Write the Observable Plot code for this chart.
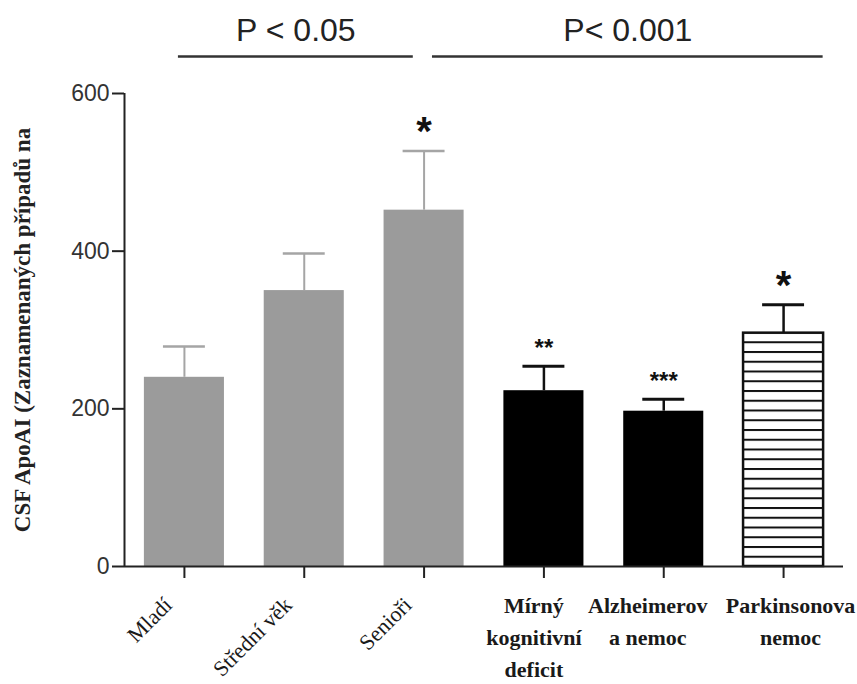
<!DOCTYPE html>
<html><head><meta charset="utf-8">
<script src="https://cdn.jsdelivr.net/npm/d3@7"></script>
<script src="https://cdn.jsdelivr.net/npm/@observablehq/plot@0.6"></script>
<style>body{margin:0;background:#fff}</style>
</head><body><div id="chart"></div>
<script>
// ---- data ----
const categories = ["Mladí", "Střední věk", "Senioři", "Mírný\nkognitivní\ndeficit", "Alzheimerov\na nemoc", "Parkinsonova\nnemoc"];
const means = [240, 350, 452, 223, 197, 296];
const upperErr = [279, 397, 527, 254, 212, 332];
const stars = ["", "", "*", "**", "***", "*"];
const yTicks = [0, 200, 400, 600];
const yLabel = "CSF ApoAI (Zaznamenaných případů na";
const pLabels = ["P < 0.05", "P< 0.001"];
const pFrom = [0, 2];
const pTo = [2, 5];

// ---- styling constants ----
const bracketPad = [[-0.05, -0.09], [0.07, 0.33]];
const labelNudge = [0, 0, 0, -10, -16, 7];
const half = 0.334, capHalf = 0.175;

const rows = categories.map((c, k) => ({i: k + 1, cat: c, mean: means[k], hi: upperErr[k], star: stars[k]}));
const pRows = pLabels.map((l, k) => ({label: l, x1: pFrom[k] + 1 + bracketPad[k][0], x2: pTo[k] + 1 + bracketPad[k][1]}));
const gray = rows.slice(0, 3), black = rows.slice(3, 5), pd = rows.slice(5);
const serif = "Liberation Serif, Times New Roman, serif";

const disease = rows.slice(3).map(d => Plot.text([d], {
  x: "i", y: () => 0, text: "cat", lineAnchor: "top", lineHeight: 1.45,
  dx: labelNudge[d.i - 1], dy: 24, fontSize: 22, fontWeight: "bold", fontFamily: serif, fill: "#1a1a1a"
}));

const svg = Plot.plot({
  width: 857, height: 684,
  marginLeft: 124, marginRight: 14, marginTop: 93, marginBottom: 118,
  x: {domain: [0.5, 6.5], axis: null},
  y: {domain: [0, 600], axis: null},
  style: {fontFamily: "Liberation Sans, Arial, sans-serif", color: "#222", background: "white"},
  marks: [
    // bars
    Plot.rectY(gray, {x1: d => d.i - half, x2: d => d.i + half, y1: 0, y2: "mean", fill: "#9b9b9b"}),
    Plot.rectY(black, {x1: d => d.i - half, x2: d => d.i + half, y1: 0, y2: "mean", fill: "#000"}),
    Plot.rectY(pd, {x1: d => d.i - half, x2: d => d.i + half, y1: 0, y2: "mean", fill: "url(#hstripes)", stroke: "#111", strokeWidth: 2.5}),
    // error bars (upper only)
    Plot.ruleX(gray, {x: "i", y1: "mean", y2: "hi", stroke: "#a5a5a5", strokeWidth: 2}),
    Plot.ruleY(gray, {y: "hi", x1: d => d.i - capHalf, x2: d => d.i + capHalf, stroke: "#a5a5a5", strokeWidth: 2.5}),
    Plot.ruleX(black.concat(pd), {x: "i", y1: "mean", y2: "hi", stroke: "#111", strokeWidth: 2.5}),
    Plot.ruleY(black.concat(pd), {y: "hi", x1: d => d.i - capHalf, x2: d => d.i + capHalf, stroke: "#111", strokeWidth: 3}),
    // significance stars
    Plot.text(rows.filter(d => d.star.length === 1), {x: "i", y: "hi", text: "star", fontSize: 40, fontWeight: "bold", dy: -19, fill: "#111"}),
    Plot.text(rows.filter(d => d.star.length > 1), {x: "i", y: "hi", text: "star", fontSize: 24, fontWeight: "bold", dy: -18, fill: "#111"}),
    // axes
    Plot.ruleX([0.5], {y1: 0, y2: 600, stroke: "#222", strokeWidth: 2}),
    Plot.ruleY([0], {x1: 0.5, x2: 6.5, stroke: "#222", strokeWidth: 2}),
    Plot.axisY({ticks: yTicks, tickSize: 12, tickPadding: 3, fontSize: 23, strokeWidth: 2, fill: "#333"}),
    Plot.axisX({ticks: rows.map(d => d.i), tickSize: 12, tickFormat: () => "", strokeWidth: 2}),
    // x labels
    Plot.text(rows.slice(0, 3), {x: "i", y: () => 0, text: "cat", rotate: -45, textAnchor: "end", dx: -16, dy: 35, fontSize: 22, fontFamily: serif, fill: "#1a1a1a"}),
    ...disease,
    // y label
    Plot.text([yLabel], {frameAnchor: "left", textAnchor: "middle", rotate: -90, dx: -102, fontSize: 23, fontWeight: "bold", fontFamily: serif, fill: "#222", ariaLabel: "ylabel"}),
    // P-value brackets
    Plot.ruleY(pRows, {y: () => 600, x1: "x1", x2: "x2", dy: -37, stroke: "#333", strokeWidth: 2.5}),
    Plot.text(pRows, {x: d => (d.x1 + d.x2) / 2, y: () => 600, text: "label", dy: -63, fontSize: 32, fill: "#222"})
  ]
});

// stripe pattern for the Parkinson bar
const ns = "http://www.w3.org/2000/svg";
const defs = document.createElementNS(ns, "defs");
const pat = document.createElementNS(ns, "pattern");
pat.setAttribute("id", "hstripes");
pat.setAttribute("patternUnits", "userSpaceOnUse");
pat.setAttribute("width", "10");
pat.setAttribute("height", "9.75");
const bg = document.createElementNS(ns, "rect");
bg.setAttribute("width", "10"); bg.setAttribute("height", "9.75"); bg.setAttribute("fill", "#fff");
const ln = document.createElementNS(ns, "rect");
ln.setAttribute("width", "10"); ln.setAttribute("height", "2"); ln.setAttribute("fill", "#111");
pat.appendChild(bg); pat.appendChild(ln); defs.appendChild(pat);
svg.insertBefore(defs, svg.firstChild);
svg.querySelectorAll('g[aria-label="ylabel"] text').forEach(t => t.setAttribute("letter-spacing", "1.6"));

document.getElementById("chart").appendChild(svg);
</script>
</body></html>
